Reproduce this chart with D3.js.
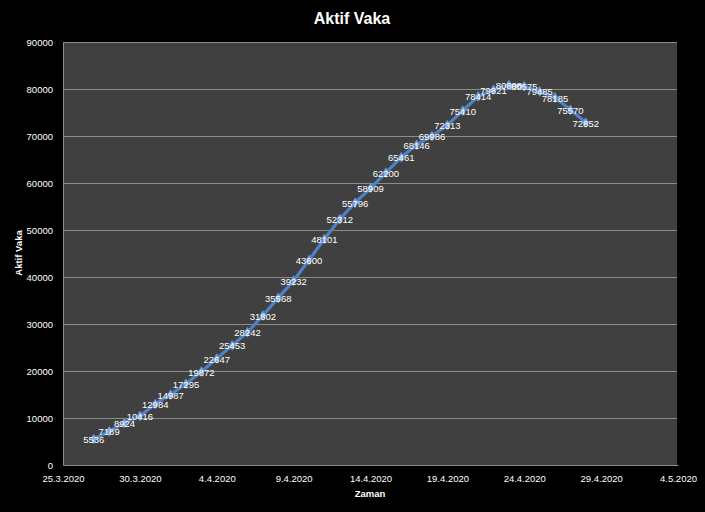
<!DOCTYPE html>
<html><head><meta charset="utf-8">
<script src="https://cdn.jsdelivr.net/npm/d3@7"></script>
<style>
html,body{margin:0;padding:0;background:#000;}
svg{display:block;}
text{font-family:"Liberation Sans",Arial,sans-serif;fill:#fff;}
</style></head>
<body>
<svg id="c" width="705" height="512"></svg>
<script>
const startDate = "27.3.2020";
const values = [5536,7189,8924,10416,12984,14987,17295,19872,22647,25453,28242,31802,35568,39232,43600,48101,52312,55796,58909,62200,65461,68146,69986,72313,75410,78414,79821,80808,80575,79485,78185,75570,72852];
const xTickLabels = ["25.3.2020","30.3.2020","4.4.2020","9.4.2020","14.4.2020","19.4.2020","24.4.2020","29.4.2020","4.5.2020"];
const yTicks = [0,10000,20000,30000,40000,50000,60000,70000,80000,90000];
const title = "Aktif Vaka";
const xTitle = "Zaman";
const yTitle = "Aktif Vaka";

const parse = s => { const [d,m,y] = s.split(".").map(Number); return new Date(y, m-1, d); };
const dates = values.map((v,i) => d3.timeDay.offset(parse(startDate), i));
const data = values.map((v,i) => ({date: dates[i], value: v}));
const xDates = xTickLabels.map(parse);

const svg = d3.select("#c");
const L = 63, R = 677, T = 42, B = 465;
svg.append("rect").attr("width",705).attr("height",512).attr("fill","#000");

const x = d3.scaleTime().domain([xDates[0], xDates[xDates.length-1]]).range([L, R+1]);
const y = d3.scaleLinear().domain([0, 90000]).range([B, T]);

svg.append("rect").attr("x",L).attr("y",T).attr("width",R-L).attr("height",B-T).attr("fill","#404040");

// gridlines
svg.append("g").selectAll("line").data(yTicks.filter(d=>d>0)).join("line")
  .attr("x1",L).attr("x2",R).attr("y1",d=>y(d)).attr("y2",d=>y(d))
  .attr("stroke","#8c8c8c").attr("stroke-width",1).attr("shape-rendering","crispEdges");

// axes
const yAxis = svg.append("g").attr("transform",`translate(${L},0)`)
  .call(d3.axisLeft(y).tickValues(yTicks).tickSize(0).tickPadding(10).tickFormat(d3.format("d")));
yAxis.select(".domain").attr("stroke","#8c8c8c");
yAxis.selectAll("text").attr("font-size","9.5px").attr("fill","#fff").attr("font-family","Liberation Sans, Arial, sans-serif");

const xAxis = svg.append("g").attr("transform",`translate(0,${B})`)
  .call(d3.axisBottom(x).tickValues(xDates).tickSize(0).tickPadding(10).tickFormat((d,i)=>xTickLabels[i]));
xAxis.select(".domain").attr("stroke","#8c8c8c");
xAxis.selectAll("text").attr("font-size","9.5px").attr("fill","#fff").attr("font-family","Liberation Sans, Arial, sans-serif");

// line
const line = d3.line().x(d=>x(d.date)).y(d=>y(d.value));
svg.append("path").datum(data).attr("d",line).attr("fill","none")
  .attr("stroke","#4f81c7").attr("stroke-width",3.2).attr("stroke-linejoin","round");
svg.append("g").selectAll("path").data(data).join("path")
  .attr("d", d3.symbol().type(d3.symbolDiamond).size(28))
  .attr("transform", d=>`translate(${x(d.date)},${y(d.value)})`)
  .attr("fill","#7ea7dd").attr("stroke","#5a8bd0").attr("stroke-width",0.8);

// labels
svg.append("g").selectAll("text").data(data).join("text")
  .attr("x", d=>x(d.date)).attr("y", d=>y(d.value)+4)
  .attr("text-anchor","middle").attr("font-size","9.5px").attr("fill","#fff")
  .text(d=>d.value);

// titles
svg.append("text").attr("x",352).attr("y",24).attr("text-anchor","middle")
  .attr("font-size","16px").attr("font-weight","bold").text(title);
svg.append("text").attr("x",370).attr("y",497).attr("text-anchor","middle")
  .attr("font-size","9.5px").attr("font-weight","bold").text(xTitle);
svg.append("text").attr("transform","translate(22,253) rotate(-90)").attr("text-anchor","middle")
  .attr("font-size","9.5px").attr("font-weight","bold").text(yTitle);
</script>
</body></html>
